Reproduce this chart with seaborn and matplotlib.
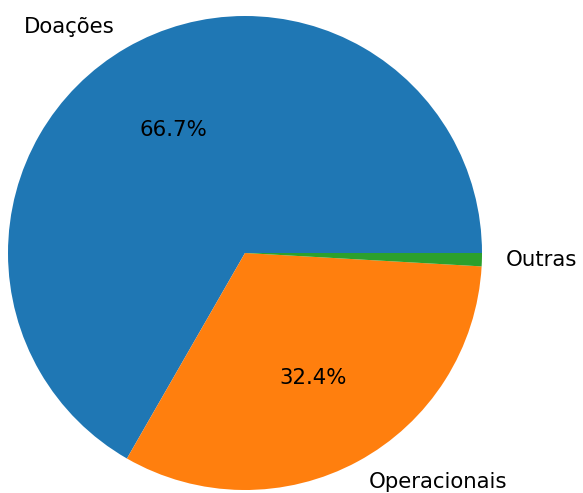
"""Pie chart of income sources."""

import matplotlib
matplotlib.use("Agg")
import matplotlib.pyplot as plt
import seaborn as sns


categories = ["Doações", "Operacionais", "Outras"]
shares = [66.7, 32.4, 0.9]

colors = sns.color_palette("tab10", 3)


def pct_label(pct):
    return f"{pct:.1f}%" if pct >= 2 else ""


fig = plt.figure(figsize=(5.83, 4.93), dpi=100)
ax = fig.add_axes([8 / 583, 3 / 493, 474 / 583, 474 / 493])
ax.pie(
    shares,
    labels=categories,
    colors=colors,
    autopct=pct_label,
    labeldistance=1.1,
    textprops={"fontsize": 15.3},
)
ax.set_xlim(-1, 1)
ax.set_ylim(-1, 1)
ax.set_aspect("equal")

fig.savefig("out.png", dpi=100)
plt.close(fig)
